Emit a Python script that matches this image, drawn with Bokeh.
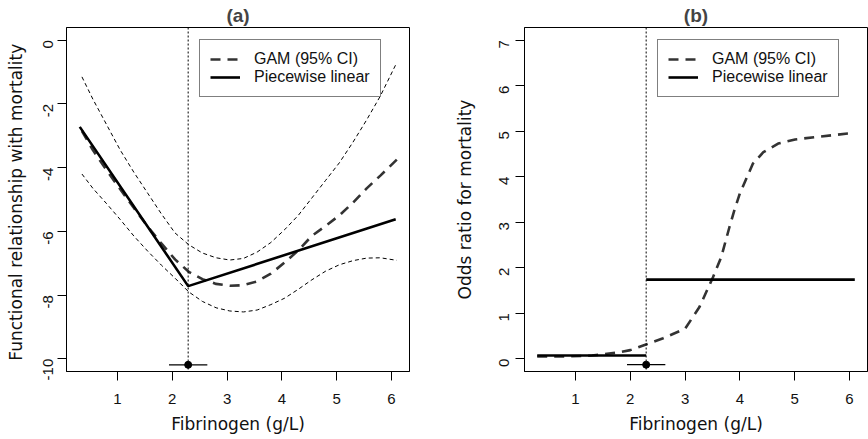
import math
from bokeh.plotting import figure
from bokeh.models import Legend, LegendItem, Span, FixedTicker
from bokeh.layouts import row
from bokeh.embed import file_html
from bokeh.resources import INLINE

# ---------------- data ----------------
x_ticks = [1, 2, 3, 4, 5, 6]
x_tick_labels = ["1", "2", "3", "4", "5", "6"]

a_y_ticks = [-10, -8, -6, -4, -2, 0]
a_y_tick_labels = ["-10", "-8", "-6", "-4", "-2", "0"]
b_y_ticks = [0, 1, 2, 3, 4, 5, 6, 7]
b_y_tick_labels = ["0", "1", "2", "3", "4", "5", "6", "7"]

# panel (a): GAM fit with 95% CI
gam_x = [0.35, 0.55, 0.8, 1.05, 1.3, 1.55, 1.8, 2.05, 2.3, 2.55, 2.8, 3.05,
         3.3, 3.55, 3.8, 4.05, 4.3, 4.55, 4.8, 5.05, 5.3, 5.55, 5.8, 6.1]
gam_fit = [-2.85, -3.45, -4.08, -4.68, -5.27, -5.85, -6.38, -6.88, -7.27, -7.5,
           -7.65, -7.71, -7.69, -7.57, -7.33, -6.98, -6.6, -6.14, -5.83, -5.5,
           -5.1, -4.65, -4.25, -3.75]
gam_upper = [-1.15, -1.85, -2.65, -3.45, -4.15, -4.8, -5.45, -6.05, -6.42, -6.68,
             -6.83, -6.9, -6.85, -6.65, -6.35, -5.95, -5.5, -4.95, -4.4, -3.85,
             -3.2, -2.5, -1.75, -0.7]
gam_lower = [-4.2, -4.65, -5.13, -5.63, -6.15, -6.62, -7.06, -7.47, -7.9, -8.2,
             -8.4, -8.5, -8.53, -8.47, -8.3, -8.1, -7.82, -7.52, -7.25, -7.05,
             -6.92, -6.84, -6.83, -6.91]

# panel (a): piecewise linear fit
pw_x = [0.31, 2.29, 6.08]
pw_y = [-2.72, -7.72, -5.62]

# panel (b): GAM odds ratio
or_x = [0.3, 0.8, 1.3, 1.8, 2.0, 2.3, 2.6, 3.0, 3.26, 3.51, 3.66, 3.81, 3.9, 4.0,
        4.12, 4.24, 4.43, 4.7, 5.01, 5.38, 5.97, 6.1]
or_gam = [0.05, 0.05, 0.07, 0.14, 0.19, 0.32, 0.45, 0.66, 1.13, 1.79, 2.23, 2.89,
          3.26, 3.63, 3.96, 4.29, 4.54, 4.73, 4.82, 4.87, 4.95, 4.96]

# panel (b): piecewise (step) odds ratios
step_low_x = [0.3, 2.29]
step_low_y = [0.07, 0.07]
step_high_x = [2.29, 6.1]
step_high_y = [1.74, 1.74]

# breakpoint estimate with CI
knot = 2.29
knot_ci = [1.94, 2.64]
knot_mark_a = -10.19
knot_mark_b = -0.13

TICK_FONT = "Liberation Sans"
LABEL_FONT = "DejaVu Sans"


def style(p, yticks, ylabels):
    p.xaxis.ticker = FixedTicker(ticks=x_ticks)
    p.xaxis.major_label_overrides = {t: l for t, l in zip(x_ticks, x_tick_labels)}
    p.yaxis.ticker = FixedTicker(ticks=yticks)
    p.yaxis.major_label_overrides = {t: l for t, l in zip(yticks, ylabels)}
    p.yaxis.major_label_orientation = math.pi / 2
    for ax in (p.xaxis, p.yaxis):
        ax.major_tick_in = 0
        ax.major_tick_out = 9
        ax.minor_tick_line_color = None
        ax.axis_line_color = "black"
        ax.major_tick_line_color = "black"
        ax.major_label_text_font = TICK_FONT
        ax.major_label_text_font_size = "15px"
        ax.major_label_text_color = "#111111"
        ax.axis_label_text_font = LABEL_FONT
        ax.axis_label_text_font_size = "17px"
        ax.axis_label_text_font_style = "normal"
        ax.axis_label_text_color = "#111111"
    p.xaxis.major_label_standoff = 13
    p.xaxis.axis_label_standoff = 7
    p.xgrid.grid_line_color = None
    p.ygrid.grid_line_color = None
    p.outline_line_color = "black"
    p.outline_line_width = 1
    p.title.align = "center"
    p.title.text_font = TICK_FONT
    p.title.text_font_size = "19px"
    p.title.text_font_style = "bold"
    p.title.standoff = 4


def add_legend(p, r_gam, r_pw, loc):
    leg = Legend(items=[LegendItem(label="GAM (95% CI)", renderers=[r_gam]),
                        LegendItem(label="Piecewise linear", renderers=[r_pw])],
                 location=loc)
    leg.border_line_color = "black"
    leg.border_line_width = 1
    leg.background_fill_alpha = 1
    leg.label_text_font = TICK_FONT
    leg.label_text_font_size = "16px"
    leg.label_text_color = "#111111"
    leg.padding = 10
    leg.spacing = 0
    leg.glyph_width = 30
    leg.glyph_height = 18
    leg.label_height = 18
    leg.label_standoff = 14
    leg.margin = 0
    p.add_layout(leg)


# ---------------- panel (a) ----------------
pa = figure(width=434, height=439, output_backend="svg", toolbar_location=None,
            x_range=(0.068, 6.332), y_range=(-10.4, 0.4), title="(a)",
            x_axis_label="Fibrinogen (g/L)",
            y_axis_label="Functional  relationship with mortality",
            min_border_left=66, min_border_right=25, min_border_top=27,
            min_border_bottom=68)
style(pa, a_y_ticks, a_y_tick_labels)
pa.yaxis.major_label_standoff = 9
pa.yaxis.axis_label_standoff = 10

pa.add_layout(Span(location=knot, dimension="height", line_color="black",
                   line_width=1, line_dash="2 2"))
pa.line(gam_x, gam_upper, line_color="black", line_width=1, line_dash="4 3")
pa.line(gam_x, gam_lower, line_color="black", line_width=1, line_dash="4 3")
ra_gam = pa.line(gam_x, gam_fit, line_color="#333333", line_width=2.6, line_dash="10 7")
ra_pw = pa.line(pw_x, pw_y, line_color="black", line_width=2.6)
pa.segment(x0=[knot_ci[0]], y0=[knot_mark_a], x1=[knot_ci[1]], y1=[knot_mark_a],
           line_color="black", line_width=1.2)
pa.scatter([knot], [knot_mark_a], size=7, color="black")
add_legend(pa, ra_gam, ra_pw, (133, 274))

# ---------------- panel (b) ----------------
pb = figure(width=434, height=439, output_backend="svg", toolbar_location=None,
            x_range=(0.068, 6.332), y_range=(-0.28, 7.28), title="(b)",
            x_axis_label="Fibrinogen (g/L)",
            y_axis_label="Odds ratio for mortality",
            min_border_left=90, min_border_right=1, min_border_top=27,
            min_border_bottom=68)
style(pb, b_y_ticks, b_y_tick_labels)
pb.yaxis.major_label_standoff = 11
pb.yaxis.axis_label_standoff = 17

pb.add_layout(Span(location=knot, dimension="height", line_color="black",
                   line_width=1, line_dash="2 2"))
rb_gam = pb.line(or_x, or_gam, line_color="#333333", line_width=2.6, line_dash="10 7")
rb_pw = pb.line(step_low_x, step_low_y, line_color="black", line_width=2.6)
pb.line(step_high_x, step_high_y, line_color="black", line_width=2.6)
pb.segment(x0=[knot_ci[0]], y0=[knot_mark_b], x1=[knot_ci[1]], y1=[knot_mark_b],
           line_color="black", line_width=1.2)
pb.scatter([knot], [knot_mark_b], size=7, color="black")
add_legend(pb, rb_gam, rb_pw, (133, 274))

layout = row(pa, pb)
open("out.html", "w").write(file_html(layout, INLINE))
